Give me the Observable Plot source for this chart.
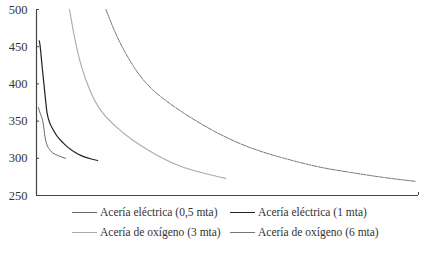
<!DOCTYPE html>
<html>
<head>
<meta charset="utf-8">
<script src="https://cdn.jsdelivr.net/npm/d3@7"></script>
<script src="https://cdn.jsdelivr.net/npm/@observablehq/plot@0.6"></script>
<style>
  body { margin: 0; background: #fff; font-family: "Liberation Serif", "Times New Roman", serif; }
  #chart { width: 434px; height: 253px; position: relative; overflow: hidden; }
  .legend { display: grid; grid-template-columns: 158px 170px; margin-left: 72px; row-gap: 6px; margin-top: 1px; font-size: 11.5px; color: #333; }
  .item { display: flex; align-items: center; height: 14px; white-space: nowrap; }
  .sw { width: 25px; height: 0; margin-right: 3px; }
</style>
</head>
<body>
<div id="chart"></div>
<script>
const seriesNames = ["Acería eléctrica (0,5 mta)", "Acería eléctrica (1 mta)", "Acería de oxígeno (3 mta)", "Acería de oxígeno (6 mta)"];
const seriesColors = ["#666666", "#222222", "#aaaaaa", "#777777"];
const seriesWidths = [1, 1.2, 1.1, 1];

const x05 = [0.5, 1.0, 1.6, 2.4, 3.7, 5.5, 7.6];
const y05 = [368, 360, 351, 324, 310, 304, 300];

const x1 = [0.7, 0.8, 1.5, 2.2, 2.8, 4.5, 7.1, 10.7, 16.0];
const y1 = [458, 456, 422, 387, 360, 337, 320, 306, 297];

const x3 = [8.6, 9.7, 11.5, 14.1, 16.8, 21.2, 25.4, 29.8, 35.1, 41.6, 49.5];
const y3 = [501, 468, 425, 388, 362, 340, 323, 309, 294, 282, 273];

const x6 = [18.1, 21.2, 25.4, 29.8, 38.5, 47.4, 56.0, 64.7, 73.6, 82.2, 90.8, 99.2];
const y6 = [501, 460, 422, 392, 360, 333, 313, 300, 288, 281, 274, 269];

const yTicks = [250, 300, 350, 400, 450, 500];

const xs = [x05, x1, x3, x6];
const ys = [y05, y1, y3, y6];
const data = [];
xs.forEach((arr, i) => arr.forEach((v, j) => data.push({s: seriesNames[i], i, x: v, y: ys[i][j]})));

const plot = Plot.plot({
  width: 434,
  height: 204,
  marginLeft: 36,
  marginRight: 16,
  marginTop: 9,
  marginBottom: 9,
  x: {domain: [0, 100], axis: null, label: null},
  y: {domain: [250, 500], ticks: yTicks, axis: null, label: null},
  style: {fontFamily: "Liberation Serif, serif", fontSize: "12.5px", color: "#333"},
  marks: [
    Plot.ruleY([250], {x1: 0, x2: 100, stroke: "#444", strokeWidth: 1.2}),
    Plot.ruleX([0], {y1: 250, y2: 500, stroke: "#444", strokeWidth: 1.2}),
    Plot.ruleY(yTicks, {x1: 0, x2: 0.8, stroke: "#444", strokeWidth: 1}),
    Plot.axisY({ticks: yTicks, tickSize: 0, tickPadding: 9, label: null, fontFamily: "Liberation Serif, serif", fontSize: 12.5, fill: "#333"}),
    ...seriesNames.map((n, i) => Plot.line(data.filter(d => d.i === i), {
      x: "x", y: "y", curve: i >= 2 ? "basis" : "monotone-x", clip: true,
      stroke: seriesColors[i], strokeWidth: seriesWidths[i],
      strokeDasharray: i === 3 ? "5,1.2" : null
    })),
    Plot.ruleX([100], {y1: 250, y2: 254, stroke: "#444", strokeWidth: 1})
  ]
});
document.getElementById("chart").appendChild(plot);

const legend = document.createElement("div");
legend.className = "legend";
seriesNames.forEach((n, i) => {
  const it = document.createElement("div");
  it.className = "item";
  const sw = document.createElement("span");
  sw.className = "sw";
  sw.style.borderTop = `${seriesWidths[i] + 0.2}px solid ${seriesColors[i]}`;
  const t = document.createElement("span");
  t.textContent = n;
  it.appendChild(sw); it.appendChild(t);
  legend.appendChild(it);
});
document.getElementById("chart").appendChild(legend);
</script>
</body>
</html>
